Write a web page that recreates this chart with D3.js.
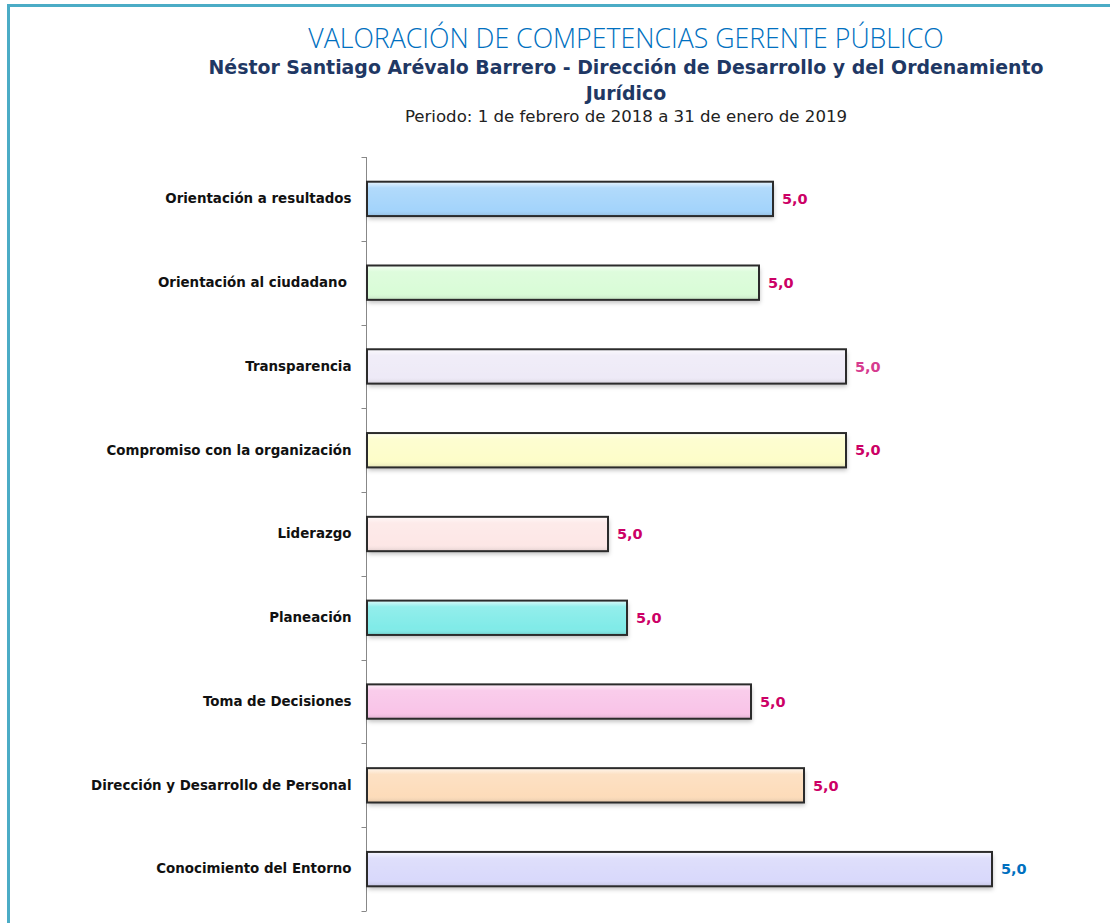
<!DOCTYPE html>
<html>
<head>
<meta charset="utf-8">
<script src="https://cdn.jsdelivr.net/npm/d3@7"></script>
<style>
  body { margin: 0; background: #fff; }
  svg { display: block; }
</style>
</head>
<body>
<svg id="chart" width="1110" height="923"></svg>
<script>
// Datos
const competencias = [
  "Orientación a resultados",
  "Orientación al ciudadano ",
  "Transparencia",
  "Compromiso con la organización",
  "Liderazgo",
  "Planeación",
  "Toma de Decisiones",
  "Dirección y Desarrollo de Personal",
  "Conocimiento del Entorno"
];
// largo de cada barra (unidades del eje oculto)
const largos = [406, 392, 479, 479, 241, 260, 384, 437, 625];
// etiqueta mostrada en cada barra
const etiquetas = ["5,0", "5,0", "5,0", "5,0", "5,0", "5,0", "5,0", "5,0", "5,0"];
const rellenos = ["#a4d4fb", "#d9fcd7", "#eeeaf7", "#fdfdc9", "#fde7e6", "#80ebe8", "#f9c4e8", "#fddcba", "#d9d9fb"];
const coloresEtiqueta = ["#cc0066", "#cc0066", "#d63b8f", "#cc0066", "#cc0066", "#cc0066", "#cc0066", "#cc0066", "#0070c0"];

const titulo = "VALORACIÓN DE COMPETENCIAS GERENTE PÚBLICO";
const subtitulo = ["Néstor Santiago Arévalo Barrero - Dirección de Desarrollo y del Ordenamiento", "Jurídico"];
const periodo = "Periodo: 1 de febrero de 2018 a 31 de enero de 2019";

const svg = d3.select("#chart");
const AXIS_X = 366;
const TOP = 157;
const BOTTOM = 911;

// marco
svg.append("path")
  .attr("d", "M8.5,923 V5.5 H1110")
  .attr("fill", "none")
  .attr("stroke", "#4bacc6")
  .attr("stroke-width", 3);

// titulos
svg.append("text")
  .attr("x", 626).attr("y", 48)
  .attr("text-anchor", "middle")
  .attr("font-family", "Open Sans")
  .attr("font-weight", 300)
  .attr("font-size", 26.7)
  .attr("fill", "#0070c0")
  .text(titulo);

svg.selectAll("text.sub")
  .data(subtitulo)
  .enter().append("text")
  .attr("class", "sub")
  .attr("x", 626)
  .attr("y", (d, i) => 74 + i * 26)
  .attr("text-anchor", "middle")
  .attr("font-family", "DejaVu Sans")
  .attr("font-weight", "bold")
  .attr("font-size", 18.9)
  .attr("fill", "#1f3864")
  .text(d => d);

svg.append("text")
  .attr("x", 626).attr("y", 122)
  .attr("text-anchor", "middle")
  .attr("font-family", "DejaVu Sans")
  .attr("font-size", 16.6)
  .attr("fill", "#222")
  .text(periodo);

// escalas
const yScale = d3.scaleBand()
  .domain(competencias)
  .range([TOP, BOTTOM])
  .paddingInner(0.59)
  .paddingOuter(0.295);
const xScale = d3.scaleLinear()
  .domain([0, 700])
  .range([AXIS_X + 1, AXIS_X + 701]);

// efectos
const defs = svg.append("defs");
const brillo = defs.append("linearGradient")
  .attr("id", "brillo")
  .attr("x1", 0).attr("y1", 0).attr("x2", 0).attr("y2", 1);
brillo.append("stop").attr("offset", "0%").attr("stop-color", "#fff").attr("stop-opacity", 0.75);
brillo.append("stop").attr("offset", "18%").attr("stop-color", "#fff").attr("stop-opacity", 0.15);
brillo.append("stop").attr("offset", "80%").attr("stop-color", "#fff").attr("stop-opacity", 0);
brillo.append("stop").attr("offset", "100%").attr("stop-color", "#000").attr("stop-opacity", 0.12);

const sombra = defs.append("filter")
  .attr("id", "sombra")
  .attr("x", "-5%").attr("y", "-20%").attr("width", "115%").attr("height", "160%");
sombra.append("feDropShadow")
  .attr("dx", 1).attr("dy", 3).attr("stdDeviation", 2)
  .attr("flood-color", "#000").attr("flood-opacity", 0.25);

// eje y
const yAxis = d3.axisLeft(yScale).tickSize(0).tickPadding(15);
const gAxis = svg.append("g")
  .attr("transform", `translate(${AXIS_X + 0.5},0)`)
  .call(yAxis);
gAxis.select(".domain").attr("stroke", "#888").attr("d", `M0,${TOP}V${BOTTOM}`);
gAxis.selectAll("text")
  .attr("font-family", "DejaVu Sans")
  .attr("font-weight", "bold")
  .attr("font-size", 13.4)
  .attr("fill", "#111")
  .style("white-space", "pre");

// marcas entre categorias
const bordes = competencias.map((c, i) => yScale(c) - yScale.step() * yScale.paddingInner() / 2);
bordes.push(BOTTOM);
gAxis.selectAll("line.sep")
  .data(bordes)
  .enter().append("line")
  .attr("class", "sep")
  .attr("x1", -5).attr("x2", 0)
  .attr("y1", d => Math.round(d) + 0.5)
  .attr("y2", d => Math.round(d) + 0.5)
  .attr("stroke", "#888");

// barras
const filas = competencias.map((c, i) => ({ c, largo: largos[i], etiqueta: etiquetas[i], relleno: rellenos[i], colorEt: coloresEtiqueta[i] }));

const gBarras = svg.append("g");
gBarras.selectAll("rect.bar")
  .data(filas)
  .enter().append("rect")
  .attr("class", "bar")
  .attr("x", xScale(0))
  .attr("y", d => yScale(d.c))
  .attr("width", d => xScale(d.largo) - xScale(0))
  .attr("height", yScale.bandwidth())
  .attr("fill", d => d.relleno)
  .attr("filter", "url(#sombra)");

gBarras.selectAll("rect.brillo")
  .data(filas)
  .enter().append("rect")
  .attr("class", "brillo")
  .attr("x", xScale(0))
  .attr("y", d => yScale(d.c))
  .attr("width", d => xScale(d.largo) - xScale(0))
  .attr("height", yScale.bandwidth())
  .attr("fill", "url(#brillo)")
  .attr("stroke", "#2b2b2b")
  .attr("stroke-width", 2);

// etiquetas de valor
svg.selectAll("text.valor")
  .data(filas)
  .enter().append("text")
  .attr("class", "valor")
  .attr("x", d => xScale(d.largo) + 9)
  .attr("y", d => yScale(d.c) + yScale.bandwidth() / 2)
  .attr("dy", "0.36em")
  .attr("font-family", "DejaVu Sans")
  .attr("font-weight", "bold")
  .attr("font-size", 14.5)
  .attr("fill", d => d.colorEt)
  .text(d => d.etiqueta);
</script>
</body>
</html>
